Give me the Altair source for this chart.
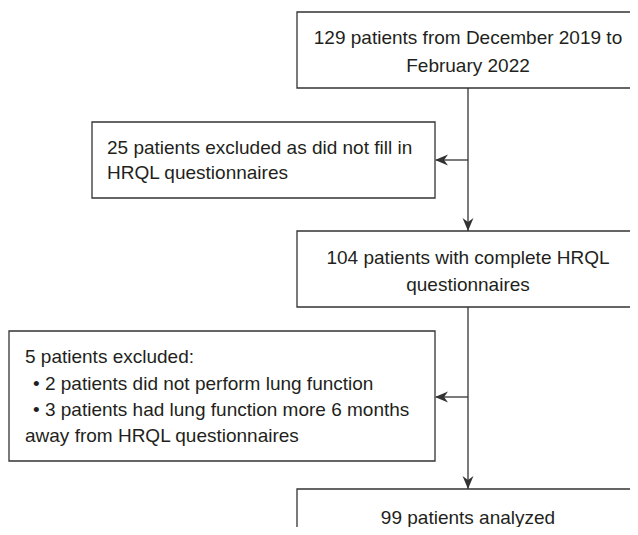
import altair as alt
import pandas as pd

# ---- Boxes (screen-pixel coordinates of the flowchart) ----
box_x1 = [297, 92, 297, 9, 297]
box_x2 = [640, 435, 640, 435, 640]
box_y1 = [12, 122, 231, 331, 489]
box_y2 = [88, 198, 307, 461, 560]

# ---- Connector lines ----
line_x1 = [468, 468, 468, 468]
line_y1 = [88, 160, 307, 397]
line_x2 = [468, 436, 468, 436]
line_y2 = [231, 160, 489, 397]

# ---- Arrow heads (tip positions) ----
arrow_x = [468, 435, 468, 435]
arrow_y = [231, 160, 489, 397]
arrow_dir = ["down", "left", "down", "left"]

# ---- Texts ----
text_x = [468, 468, 107, 107, 468, 468, 25, 33, 33, 25, 468]
text_y = [38, 66, 148, 173, 258, 285, 357, 384, 410, 436, 518]
text_align = ["center", "center", "left", "left", "center", "center",
              "left", "left", "left", "left", "center"]
text_label = [
    "129 patients from December 2019 to",
    "February 2022",
    "25 patients excluded as did not fill in",
    "HRQL questionnaires",
    "104 patients with complete HRQL",
    "questionnaires",
    "5 patients excluded:",
    "\u2022 2 patients did not perform lung function",
    "\u2022 3 patients had lung function more 6 months",
    "away from HRQL questionnaires",
    "99 patients analyzed",
]

LINE = "#333333"
TEXT = "#231f20"
FONT = "Liberation Sans"
FS = 19

boxes = pd.DataFrame({"x1": box_x1, "x2": box_x2, "y1": box_y1, "y2": box_y2})
lines = pd.DataFrame({"x1": line_x1, "x2": line_x2, "y1": line_y1, "y2": line_y2})
arrows = pd.DataFrame({"x": arrow_x, "y": arrow_y, "d": arrow_dir})
texts = pd.DataFrame({"x": text_x, "y": text_y, "a": text_align, "t": text_label})

xs = alt.Scale(domain=[8, 630], nice=False, zero=False)
ys = alt.Scale(domain=[8, 527], nice=False, zero=False, reverse=True)

X = lambda f: alt.X(f, type="quantitative", scale=xs, axis=None)
Y = lambda f: alt.Y(f, type="quantitative", scale=ys, axis=None)

rects = alt.Chart(boxes).mark_rect(
    fill="white", stroke=LINE, strokeWidth=1.3, clip=True
).encode(x=X("x1"), x2="x2", y=Y("y1"), y2="y2")

rules = alt.Chart(lines).mark_rule(
    color=LINE, strokeWidth=1.3
).encode(x=X("x1"), x2="x2", y=Y("y1"), y2="y2")

DOWN = "M0,0 L-0.42,-1 L0,-0.7 L0.42,-1 Z"
LEFT = "M0,0 L1,-0.42 L0.7,0 L1,0.42 Z"

heads_down = alt.Chart(arrows).transform_filter(
    alt.datum.d == "down"
).mark_point(
    shape=DOWN, filled=True, size=676, color=LINE, opacity=1
).encode(x=X("x"), y=Y("y"))

heads_left = alt.Chart(arrows).transform_filter(
    alt.datum.d == "left"
).mark_point(
    shape=LEFT, filled=True, size=676, color=LINE, opacity=1
).encode(x=X("x"), y=Y("y"))

def text_layer(align):
    return alt.Chart(texts).transform_filter(
        alt.datum.a == align
    ).mark_text(
        align=align, baseline="middle", font=FONT, fontSize=FS, color=TEXT
    ).encode(x=X("x"), y=Y("y"), text="t:N")

chart = alt.layer(
    rects, rules, heads_down, heads_left,
    text_layer("center"), text_layer("left"),
).properties(
    width=622, height=519, padding=0, autosize="none", background="white"
).configure_view(stroke=None)

chart.save("out.html", embed_options={"renderer": "svg", "actions": False})
